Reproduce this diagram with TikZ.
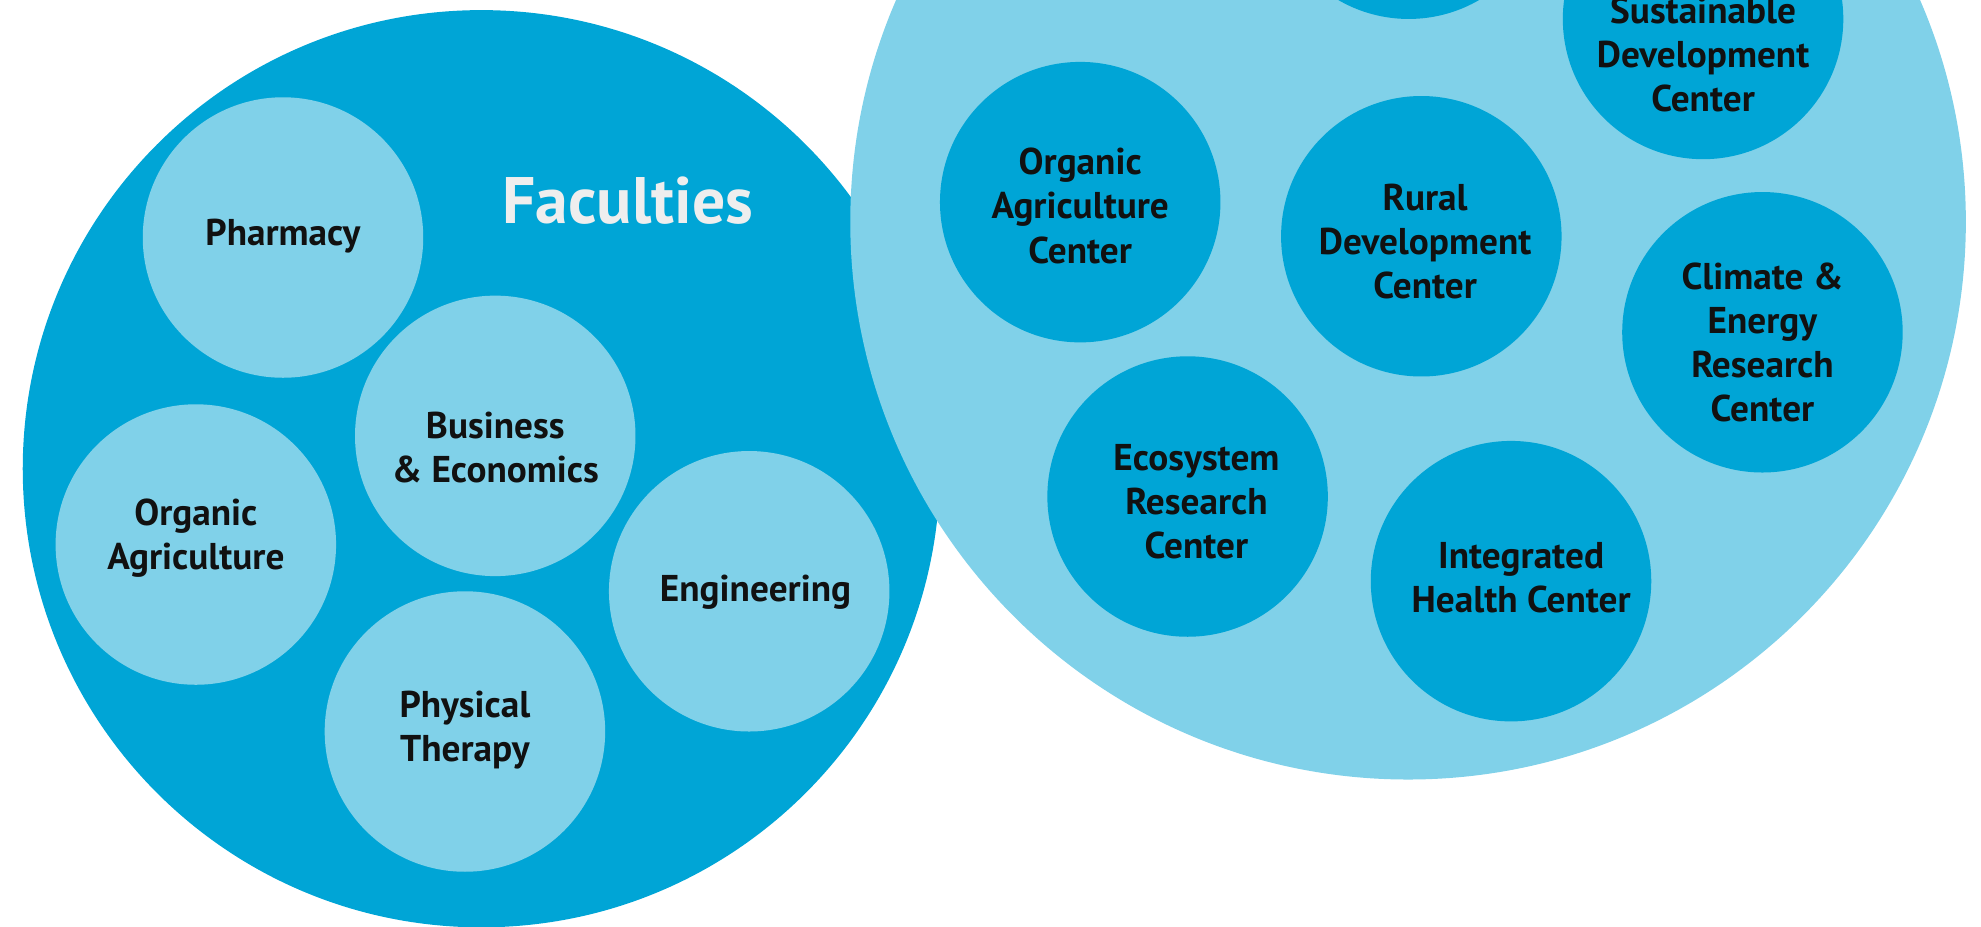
\documentclass[tikz,border=0pt]{standalone}
\usepackage{fontspec}
\setmainfont{PT Sans}
\definecolor{dark}{HTML}{00A5D6}
\definecolor{light}{HTML}{80D1E9}
\definecolor{ink}{HTML}{111111}
\definecolor{titlec}{HTML}{EEEEEE}
\begin{document}
\begin{tikzpicture}[x=1pt,y=-1pt,
  disc/.style={circle, inner sep=0pt, minimum size=222pt},
  ldisc/.style={disc, fill=light},
  ddisc/.style={disc, fill=dark},
  lab/.style={align=center, text=ink, inner sep=0pt, font=\fontsize{29.5}{35}\selectfont\bfseries}]
\useasboundingbox (0,0) rectangle (1568,733);
% big circles
\node[circle, inner sep=0pt, minimum size=726pt, fill=dark] (fac) at (381,371) {};
\node[circle, inner sep=0pt, minimum size=883pt, fill=light] (cen) at (1114.5,175.5) {};
% faculties
\node[font=\fontsize{52}{60}\selectfont\bfseries, text=titlec, inner sep=0pt] (factitle) at (497,159) {Faculties};
\node[ldisc] (ph) at (224,188) {};
\node[ldisc] (be) at (392,345) {};
\node[ldisc] (oa) at (155,431) {};
\node[ldisc] (en) at (593,468) {};
\node[ldisc] (pt) at (368,579) {};
\node[lab] (phT) at (224,187) {Pharmacy};
\node[lab] (beT) at (392,354) {Business\\\& Economics};
\node[lab] (oaT) at (155,426) {Organic\\Agriculture};
\node[lab] (enT) at (598,469) {Engineering};
\node[lab] (ptT) at (368,578) {Physical\\Therapy};
% centers
\node[ddisc] (top) at (1115,-96) {};
\node[ddisc] (sd) at (1348,15) {};
\node[ddisc] (oc) at (855,160) {};
\node[ddisc] (rd) at (1125,187) {};
\node[ddisc] (ce) at (1395,263) {};
\node[ddisc] (er) at (940,393) {};
\node[ddisc] (ih) at (1196,460) {};
\node[lab] (sdT) at (1348,43) {Sustainable\\Development\\Center};
\node[lab] (ocT) at (855,163) {Organic\\Agriculture\\Center};
\node[lab] (rdT) at (1128,191) {Rural\\Development\\Center};
\node[lab] (ceT) at (1395,271) {Climate \&\\Energy\\Research\\Center};
\node[lab] (erT) at (947,397) {Ecosystem\\Research\\Center};
\node[lab] (ihT) at (1204,457) {Integrated\\Health Center};
\end{tikzpicture}
\end{document}
